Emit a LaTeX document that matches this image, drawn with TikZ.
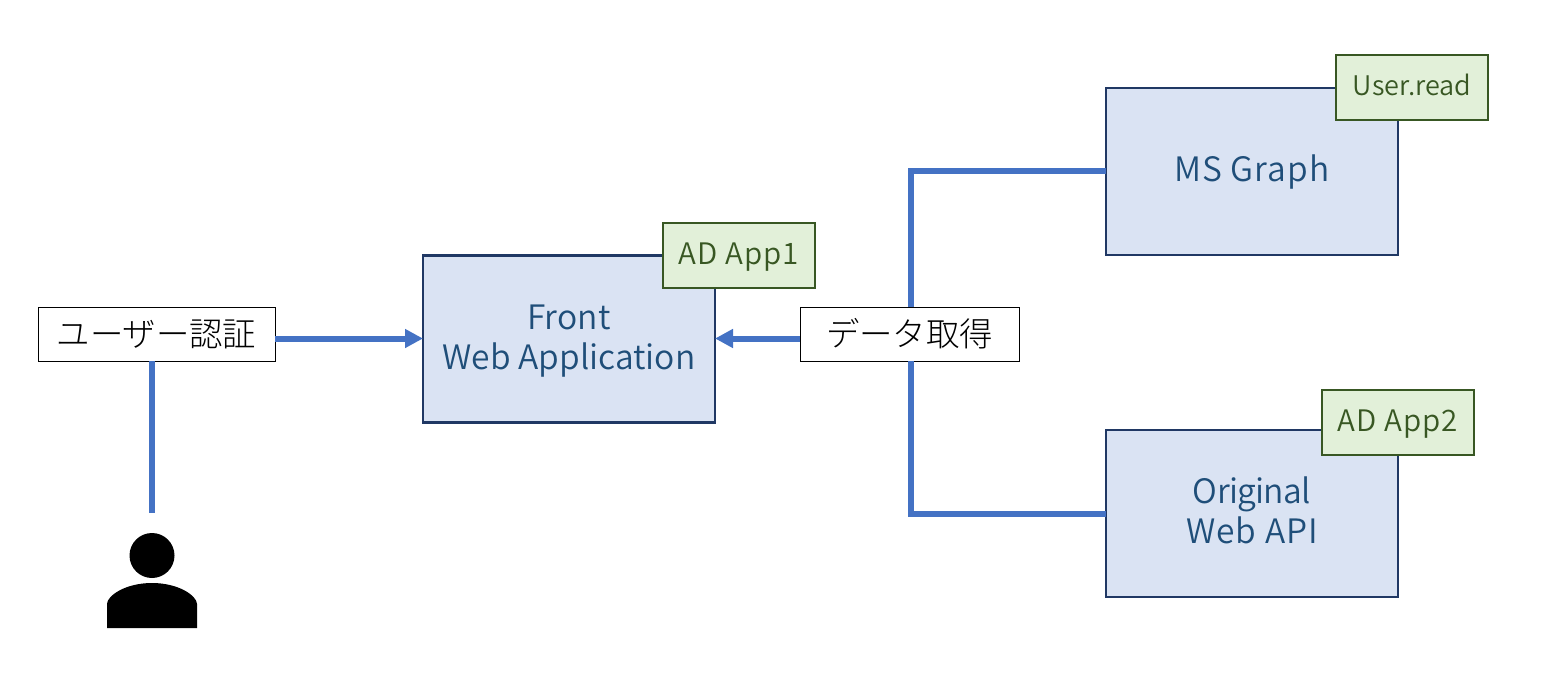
\documentclass[tikz,border=0pt]{standalone}
\usepackage{fontspec}
\setmainfont{Noto Sans CJK JP Light}
\newfontfamily\latinface{Noto Sans CJK JP DemiLight}
\usetikzlibrary{arrows.meta}
\definecolor{conn}{HTML}{4472C4}
\definecolor{navyline}{HTML}{203864}
\definecolor{bluefill}{HTML}{DAE3F3}
\definecolor{bluetext}{HTML}{1F4E79}
\definecolor{greenfill}{HTML}{E2F0D9}
\definecolor{greenline}{HTML}{385723}
\newcommand{\svcline}[2]{{\addfontfeature{LetterSpace=#1}\rule[-5pt]{0pt}{20pt}\smash{#2}}}
\newcommand{\tagline}[2]{{\addfontfeature{LetterSpace=#1}\rule[-4.5pt]{0pt}{17.5pt}\smash{#2}}}
\tikzset{
  x=0.5pt,y=-0.5pt,
  svc/.style={draw=navyline,fill=bluefill,line width=1.1pt,text=bluetext,font=\latinface\fontsize{16.8}{20}\selectfont,align=center,outer sep=0pt,inner sep=0pt,minimum width=146pt,minimum height=83.5pt},
  tagbox/.style={draw=greenline,fill=greenfill,line width=1.2pt,text=greenline,outer sep=0pt,inner sep=0pt,minimum width=76pt,minimum height=32.5pt},
  bigtag/.style={tagbox,font=\latinface\fontsize{14.8}{16}\selectfont},
  smalltag/.style={tagbox,font=\latinface\fontsize{13.5}{16}\selectfont},
  lbl/.style={draw=black,fill=white,line width=0.5pt,text=black,font=\fontsize{16.7}{20}\selectfont,outer sep=0pt,inner sep=0pt,minimum height=27pt},
  conline/.style={draw=conn,line width=3pt},
  conarrow/.style={conline,-{Triangle[length=9pt,width=9pt]}},
}
\begin{document}
\begin{tikzpicture}
\useasboundingbox (0,0) rectangle (1568,700);
\fill[white] (0,0) rectangle (1568,700);
% connectors' free ends
\coordinate (userEnd) at (152,513);
\coordinate (bend1) at (911,171);
\coordinate (bend2) at (911,514);
% boxes
\node[svc] (front) at (569,339) {\svcline{0.5}{Front}\\\svcline{0}{Web Application}};
\node[svc] (ms) at (1252,171.5) {\svcline{3}{MS Graph}};
\node[svc] (api) at (1252,513.5) {\svcline{-2}{Original}\\\svcline{3}{Web API}};
\node[lbl,minimum width=118.5pt] (auth) at (156.5,334) {ユーザー認証};
\node[lbl,minimum width=109.5pt] (data) at (909.5,334) {データ取得};
% connectors
\draw[conarrow] (auth.east |- 0,338.5) -- (front.west |- 0,338.5);
\draw[conarrow] (data.west |- 0,338.5) -- (front.east |- 0,338.5);
\draw[conline] (userEnd |- auth.south) -- (userEnd);
\draw[conline] (bend1 |- data.north) -- (bend1) -- (ms.west |- bend1);
\draw[conline] (bend2 |- data.south) -- (bend2) -- (api.west |- bend2);
% tags
\node[bigtag] (app1) at (739,255.5) {\tagline{3.5}{AD App1}};
\node[smalltag] (read) at (1412,87.5) {\tagline{0}{User.read}};
\node[bigtag] (app2) at (1398,422.5) {\tagline{3.5}{AD App2}};
% person
\node[circle,fill=black,inner sep=0pt,outer sep=0pt,minimum size=22.5pt] (head) at (152,555.5) {};
\fill[black] (107,628) -- (107,604) .. controls (107,596) and (125,583) .. (152,583) .. controls (179,583) and (197,596) .. (197,604) -- (197,628) -- cycle;
\end{tikzpicture}
\end{document}
